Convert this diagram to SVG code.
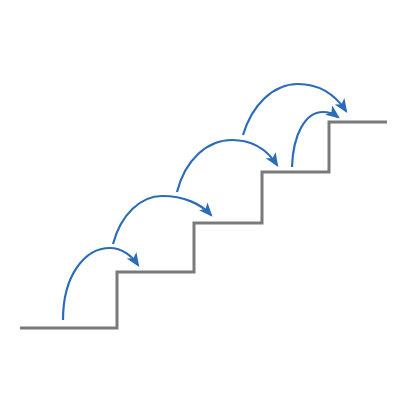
<svg xmlns="http://www.w3.org/2000/svg" width="400" height="400" viewBox="0 0 400 400">
<style>
.stair{fill:none;stroke:#7a7a7a;stroke-width:3;stroke-linejoin:miter}
.arc{fill:none;stroke:#2b6cb8;stroke-width:2.2;marker-end:url(#ah)}
</style>
<defs>
<marker id="ah" markerUnits="userSpaceOnUse" markerWidth="14" markerHeight="12" refX="10" refY="5" orient="auto" viewBox="0 0 12 10">
<path d="M0,0 L12,5 L0,10 L3,5 z" fill="#2b6cb8"/>
</marker>
</defs>
<rect width="400" height="400" fill="#ffffff"/>
<g id="stairs">
<path class="stair" d="M20,328 H117 V272 H194 V223 H262 V172 H329 V122 H387"/>
</g>
<g id="connectors">
<path class="arc" d="M63,320 C63,275 85,248 110,248 C122,248 132,256 138,265"/>
<path class="arc" d="M113,244 C121,214 141,196 162,196 C184,196 201,204 211,215"/>
<path class="arc" d="M177,192 C185,160 207,140 232,140 C253,140 268,151 277,165"/>
<path class="arc" d="M243,135 C252,105 273,84 298,84 C320,84 336,96 346,111"/>
<path class="arc" d="M292,167 C293,135 305,112 323,112 C330,112 334,114 338,117"/>
</g>
</svg>
